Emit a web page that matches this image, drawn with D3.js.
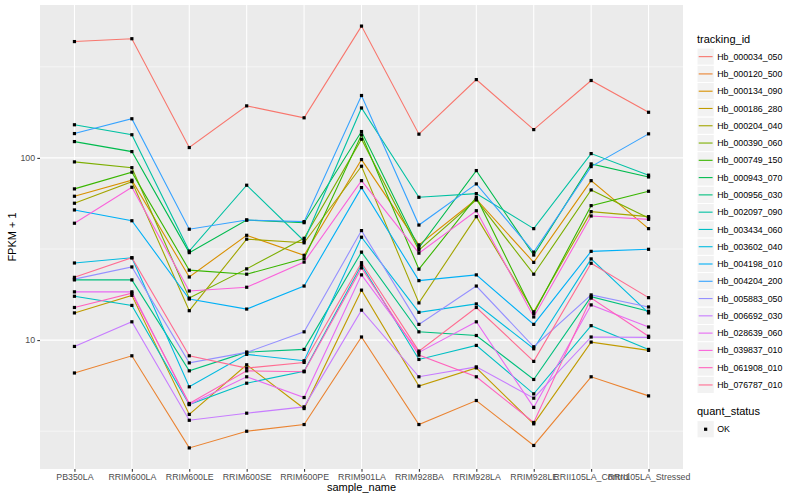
<!DOCTYPE html>
<html>
<head>
<meta charset="utf-8">
<script src="https://cdn.jsdelivr.net/npm/d3@7"></script>
<style>
body { margin: 0; background: #fff; }
text { font-family: "Liberation Sans", Arial, Helvetica, sans-serif; }
</style>
</head>
<body>
<svg id="svg" width="800" height="500"></svg>
<script>
// sample names on the x axis
var samples = ["PB350LA", "RRIM600LA", "RRIM600LE", "RRIM600SE", "RRIM600PE", "RRIM901LA",
	"RRIM928BA", "RRIM928LA", "RRIM928LE", "RRII105LA_Control", "RRII105LA_Stressed"];

// FPKM + 1, one array per gene, in sample order
var hb_000034_050 = [435, 451, 114, 193, 166, 529, 135, 269, 143, 266, 178];
var hb_000120_500 = [6.6, 8.2, 2.56, 3.16, 3.44, 10.4, 3.44, 4.66, 2.64, 6.29, 4.94];
var hb_000134_090 = [61.6, 75.4, 22.2, 37.6, 29.2, 97.9, 33.3, 59.3, 26.7, 75.0, 40.9];
var hb_000186_280 = [14.1, 17.6, 3.91, 7.32, 4.21, 18.8, 5.59, 7.04, 3.47, 9.75, 8.78];
var hb_000204_040 = [56.4, 74.1, 14.5, 35.8, 34.2, 90.0, 16.0, 47.6, 14.3, 50.7, 47.6];
var hb_000390_060 = [95.1, 88.4, 17.0, 24.6, 36.2, 126.7, 31.2, 58.8, 23.0, 66.7, 46.8];
var hb_000749_150 = [67.6, 83.5, 24.2, 23.0, 28.0, 133.8, 24.5, 60.8, 14.0, 54.7, 65.6];
var hb_000943_070 = [122.9, 108.3, 30.2, 45.6, 44.1, 139.5, 32.1, 85.2, 29.3, 92.7, 78.6];
var hb_000956_030 = [21.4, 21.4, 6.78, 8.59, 8.89, 30.4, 11.1, 10.6, 6.08, 17.3, 14.4];
var hb_002097_090 = [152, 134, 30.8, 70.8, 35.0, 188, 60.8, 63.7, 40.9, 105.6, 80.4];
var hb_003434_060 = [17.4, 15.5, 4.43, 5.80, 6.75, 25.8, 7.83, 9.35, 5.07, 12.0, 8.89];
var hb_003602_040 = [26.5, 28.3, 5.54, 8.35, 7.70, 36.7, 14.2, 15.8, 8.96, 27.9, 14.1];
var hb_004198_010 = [51.8, 45.2, 16.8, 14.8, 19.8, 68.7, 21.2, 22.8, 12.2, 30.7, 31.5];
var hb_004204_200 = [136, 164, 40.6, 45.6, 44.7, 220, 42.8, 72.0, 30.4, 89.6, 135.5];
var hb_005883_050 = [21.6, 25.2, 7.50, 8.56, 11.1, 39.9, 12.2, 19.8, 9.19, 17.7, 15.2];
var hb_006692_030 = [9.23, 12.6, 3.63, 3.97, 4.30, 14.6, 6.29, 7.13, 4.80, 10.4, 10.35];
var hb_028639_060 = [18.4, 18.4, 4.43, 6.29, 4.84, 22.8, 8.56, 12.6, 4.27, 15.6, 11.8];
var hb_039837_010 = [43.8, 69.0, 18.6, 19.5, 26.8, 75.0, 30.0, 51.3, 13.4, 48.0, 46.0];
var hb_061908_010 = [15.1, 18.1, 4.49, 6.78, 6.70, 24.9, 8.27, 6.29, 3.53, 17.0, 10.5];
var hb_076787_010 = [22.1, 28.3, 8.20, 7.02, 7.54, 26.6, 8.70, 15.1, 7.64, 26.4, 17.1];

var trackingIds = ["Hb_000034_050", "Hb_000120_500", "Hb_000134_090", "Hb_000186_280", "Hb_000204_040",
	"Hb_000390_060", "Hb_000749_150", "Hb_000943_070", "Hb_000956_030", "Hb_002097_090",
	"Hb_003434_060", "Hb_003602_040", "Hb_004198_010", "Hb_004204_200", "Hb_005883_050",
	"Hb_006692_030", "Hb_028639_060", "Hb_039837_010", "Hb_061908_010", "Hb_076787_010"];
var fpkmRows = [hb_000034_050, hb_000120_500, hb_000134_090, hb_000186_280, hb_000204_040,
	hb_000390_060, hb_000749_150, hb_000943_070, hb_000956_030, hb_002097_090,
	hb_003434_060, hb_003602_040, hb_004198_010, hb_004204_200, hb_005883_050,
	hb_006692_030, hb_028639_060, hb_039837_010, hb_061908_010, hb_076787_010];
var quantStatus = ["OK"];

var yTicks = [10, 100];
var yTickLabels = ["10", "100"];
var yMinor = [Math.pow(10, 0.5), Math.pow(10, 1.5), Math.pow(10, 2.5)];

// ggplot default hue palette for 20 levels
var palette = ["#F8766D", "#EA8331", "#D89000", "#C09B00", "#A3A500", "#7CAE00", "#39B600", "#00BB4E",
	"#00BF7D", "#00C1A3", "#00BFC4", "#00BAE0", "#00B0F6", "#35A2FF", "#9590FF", "#C77CFF",
	"#E76BF3", "#FA62DB", "#FF62BC", "#FF6C91"];

var panel = {left: 40, right: 683, top: 5, bottom: 469};
var svg = d3.select("#svg");

var x = d3.scalePoint().domain(samples).range([panel.left, panel.right]).padding(0.6);

// log range of the data, widened by 5% like ggplot
var all = [].concat.apply([], fpkmRows);
var lo = Math.log10(d3.min(all)), hi = Math.log10(d3.max(all)), pad = (hi - lo) * 0.05;
var y = d3.scaleLog()
	.domain([Math.pow(10, lo - pad), Math.pow(10, hi + pad)])
	.range([panel.bottom, panel.top]);

svg.append("rect")
	.attr("x", panel.left).attr("y", panel.top)
	.attr("width", panel.right - panel.left).attr("height", panel.bottom - panel.top)
	.attr("fill", "#EBEBEB");

svg.append("g").selectAll("line").data(yMinor).enter().append("line")
	.attr("x1", panel.left).attr("x2", panel.right)
	.attr("y1", function(d){ return y(d); }).attr("y2", function(d){ return y(d); })
	.attr("stroke", "#fff").attr("stroke-width", 0.53);

svg.append("g").selectAll("line").data(yTicks).enter().append("line")
	.attr("x1", panel.left).attr("x2", panel.right)
	.attr("y1", function(d){ return y(d); }).attr("y2", function(d){ return y(d); })
	.attr("stroke", "#fff").attr("stroke-width", 1.07);

svg.append("g").selectAll("line").data(samples).enter().append("line")
	.attr("x1", function(d){ return x(d); }).attr("x2", function(d){ return x(d); })
	.attr("y1", panel.top).attr("y2", panel.bottom)
	.attr("stroke", "#fff").attr("stroke-width", 1.07);

// axes
var xAxis = svg.append("g")
	.attr("transform", "translate(0," + panel.bottom + ")")
	.call(d3.axisBottom(x).tickSize(2.7).tickPadding(2.2));
var yAxis = svg.append("g")
	.attr("transform", "translate(" + panel.left + ",0)")
	.call(d3.axisLeft(y).tickValues(yTicks).tickSize(2.7).tickPadding(2.2)
		.tickFormat(function(d, i){ return yTickLabels[i]; }));

[xAxis, yAxis].forEach(function(ax){
	ax.select(".domain").remove();
	ax.attr("font-family", null).attr("font-size", null);
	ax.selectAll(".tick line").attr("stroke", "#333333").attr("stroke-width", 1.07);
	ax.selectAll(".tick text").attr("fill", "#4D4D4D").style("font-size", "8.8px");
});

svg.append("text")
	.attr("x", (panel.left + panel.right) / 2).attr("y", 491)
	.attr("text-anchor", "middle").style("font-size", "11px")
	.text("sample_name");

svg.append("text")
	.attr("transform", "translate(16," + ((panel.top + panel.bottom) / 2) + ") rotate(-90)")
	.attr("text-anchor", "middle").style("font-size", "11px")
	.text("FPKM + 1");

// one line per gene, points on top
var line = d3.line()
	.x(function(d, i){ return x(samples[i]); })
	.y(function(d){ return y(d); });

svg.append("g").selectAll("path").data(fpkmRows).enter().append("path")
	.attr("d", line)
	.attr("fill", "none")
	.attr("stroke", function(d, i){ return palette[i]; })
	.attr("stroke-width", 1.1);

var pts = svg.append("g");
fpkmRows.forEach(function(row){
	pts.selectAll(null).data(row).enter().append("rect")
		.attr("x", function(d, i){ return x(samples[i]) - 1.6; })
		.attr("y", function(d){ return y(d) - 1.6; })
		.attr("width", 3.2).attr("height", 3.2)
		.attr("fill", "#000");
});

// legends
var keySize = 17.28, legX = 697;
var leg = svg.append("g");
leg.append("text").attr("x", legX).attr("y", 43).style("font-size", "11px").text("tracking_id");

var keys = leg.selectAll("g.key").data(trackingIds).enter().append("g")
	.attr("class", "key")
	.attr("transform", function(d, i){ return "translate(" + legX + "," + (48 + i * keySize) + ")"; });
keys.append("rect")
	.attr("width", keySize).attr("height", keySize)
	.attr("fill", "#F2F2F2").attr("stroke", "#fff").attr("stroke-width", 1);
keys.append("line")
	.attr("x1", 1.7).attr("x2", keySize - 1.7)
	.attr("y1", keySize / 2).attr("y2", keySize / 2)
	.attr("stroke", function(d, i){ return palette[i]; })
	.attr("stroke-width", 1.1);
keys.append("text")
	.attr("x", keySize + 3).attr("y", keySize / 2).attr("dy", "0.35em")
	.style("font-size", "8.8px")
	.text(function(d){ return d; });

leg.append("text").attr("x", legX).attr("y", 415).style("font-size", "11px").text("quant_status");
var qkeys = leg.selectAll("g.qkey").data(quantStatus).enter().append("g")
	.attr("class", "qkey")
	.attr("transform", function(d, i){ return "translate(" + legX + "," + (420.6 + i * keySize) + ")"; });
qkeys.append("rect")
	.attr("width", keySize).attr("height", keySize)
	.attr("fill", "#F2F2F2").attr("stroke", "#fff").attr("stroke-width", 1);
qkeys.append("rect")
	.attr("x", keySize / 2 - 1.6).attr("y", keySize / 2 - 1.6)
	.attr("width", 3.2).attr("height", 3.2).attr("fill", "#000");
qkeys.append("text")
	.attr("x", keySize + 3).attr("y", keySize / 2).attr("dy", "0.35em")
	.style("font-size", "8.8px")
	.text(function(d){ return d; });
</script>
</body>
</html>
